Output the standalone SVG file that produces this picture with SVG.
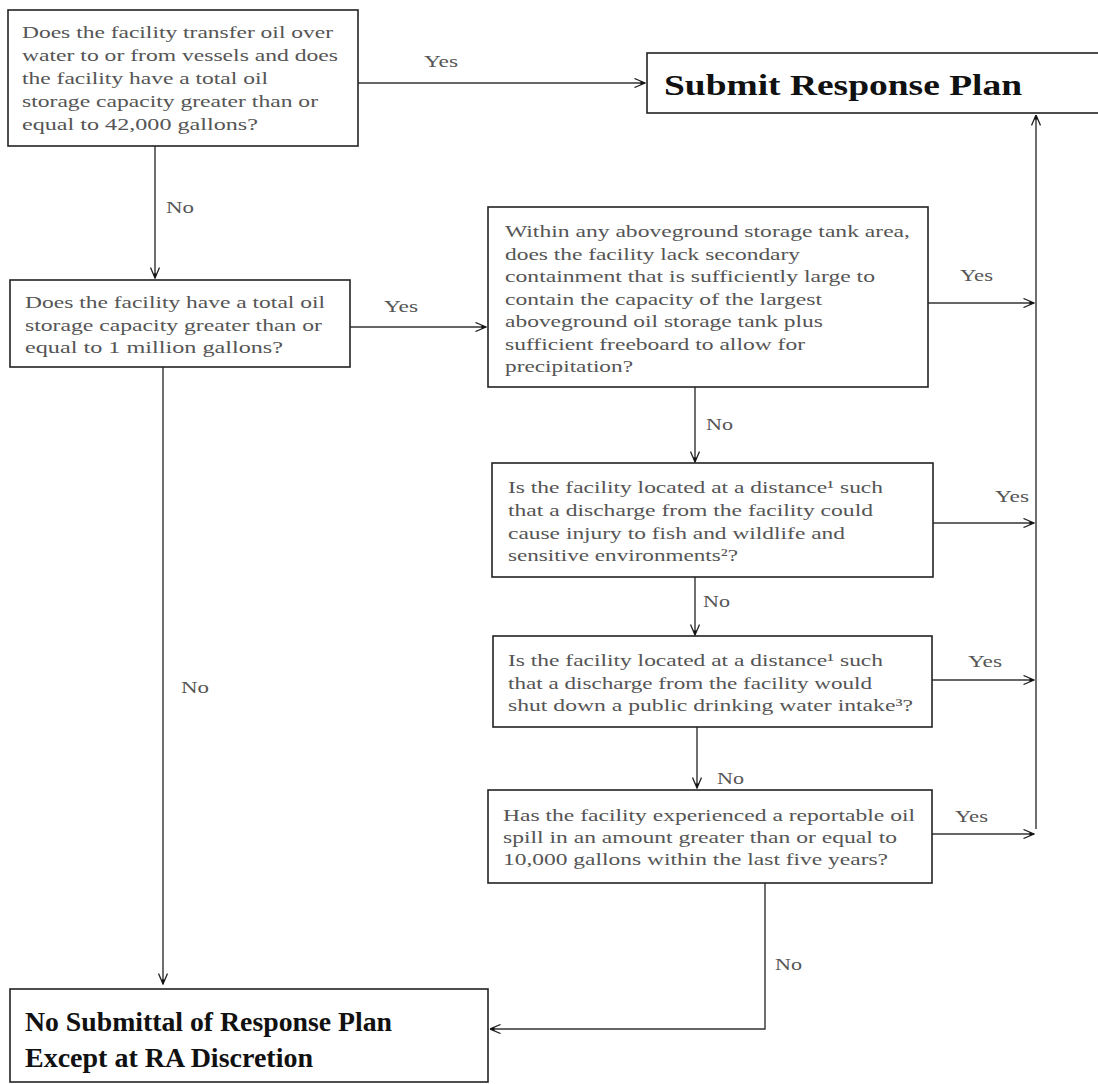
<svg xmlns="http://www.w3.org/2000/svg" width="1098" height="1084" viewBox="0 0 1098 1084">
<style>
.box{fill:#fff;stroke:#222;stroke-width:1.6}
.t{font-family:"Liberation Serif","Times New Roman",serif;font-size:17px;fill:#555}
.lbl{font-family:"Liberation Serif","Times New Roman",serif;font-size:17px;fill:#555}
.big{font-family:"Liberation Serif","Times New Roman",serif;font-weight:bold;fill:#111}
.c{fill:none;stroke:#333;stroke-width:1.4}
</style>
<defs>
<marker id="ah" viewBox="0 0 12 10" refX="11.5" refY="5" markerWidth="12" markerHeight="10" markerUnits="userSpaceOnUse" orient="auto">
<path d="M1,0.5 L11.5,5 L1,9.5" fill="none" stroke="#222" stroke-width="1.3"/>
<path d="M7,3 L11.5,5 L7,7 Z" fill="#111"/>
</marker>
</defs>
<rect width="1098" height="1084" fill="#fff"/>

<g id="connectors">
<path class="c" d="M358,83 H645" marker-end="url(#ah)"/>
<path class="c" d="M155,146 V278" marker-end="url(#ah)"/>
<path class="c" d="M350,327 H486" marker-end="url(#ah)"/>
<path class="c" d="M163,367 V984" marker-end="url(#ah)"/>
<path class="c" d="M928,303 H1034" marker-end="url(#ah)"/>
<path class="c" d="M695,387 V462" marker-end="url(#ah)"/>
<path class="c" d="M933,523 H1034" marker-end="url(#ah)"/>
<path class="c" d="M695,577 V635" marker-end="url(#ah)"/>
<path class="c" d="M932,680 H1034" marker-end="url(#ah)"/>
<path class="c" d="M697,727 V788" marker-end="url(#ah)"/>
<path class="c" d="M932,834 H1034" marker-end="url(#ah)"/>
<path class="c" d="M1036,829 V115" marker-end="url(#ah)"/>
<path class="c" d="M765,883 V1029 H490" marker-end="url(#ah)"/>
<text class="lbl" x="424" y="67" textLength="34" lengthAdjust="spacingAndGlyphs">Yes</text>
<text class="lbl" x="166" y="213" textLength="28" lengthAdjust="spacingAndGlyphs">No</text>
<text class="lbl" x="384" y="312" textLength="34" lengthAdjust="spacingAndGlyphs">Yes</text>
<text class="lbl" x="181" y="693" textLength="28" lengthAdjust="spacingAndGlyphs">No</text>
<text class="lbl" x="960" y="281" textLength="33" lengthAdjust="spacingAndGlyphs">Yes</text>
<text class="lbl" x="706" y="430" textLength="27" lengthAdjust="spacingAndGlyphs">No</text>
<text class="lbl" x="995" y="502" textLength="34" lengthAdjust="spacingAndGlyphs">Yes</text>
<text class="lbl" x="703" y="607" textLength="27" lengthAdjust="spacingAndGlyphs">No</text>
<text class="lbl" x="968" y="667" textLength="34" lengthAdjust="spacingAndGlyphs">Yes</text>
<text class="lbl" x="717" y="784" textLength="27" lengthAdjust="spacingAndGlyphs">No</text>
<text class="lbl" x="955" y="822" textLength="33" lengthAdjust="spacingAndGlyphs">Yes</text>
<text class="lbl" x="775" y="970" textLength="27" lengthAdjust="spacingAndGlyphs">No</text>
</g>

<g id="q1">
<rect class="box" x="8" y="10" width="350" height="136"/>
<text class="t" x="22" y="38" textLength="311" lengthAdjust="spacingAndGlyphs">Does the facility transfer oil over</text>
<text class="t" x="22" y="61" textLength="316" lengthAdjust="spacingAndGlyphs">water to or from vessels and does</text>
<text class="t" x="22" y="84" textLength="246" lengthAdjust="spacingAndGlyphs">the facility have a total oil</text>
<text class="t" x="22" y="107" textLength="296" lengthAdjust="spacingAndGlyphs">storage capacity greater than or</text>
<text class="t" x="22" y="130" textLength="236" lengthAdjust="spacingAndGlyphs">equal to 42,000 gallons?</text>
</g>

<g id="submit">
<rect class="box" x="647" y="53" width="460" height="60"/>
<text class="big" x="664" y="95" font-size="29" textLength="358" lengthAdjust="spacingAndGlyphs">Submit Response Plan</text>
</g>

<g id="q2">
<rect class="box" x="10" y="280" width="340" height="87"/>
<text class="t" x="25" y="308" textLength="300" lengthAdjust="spacingAndGlyphs">Does the facility have a total oil</text>
<text class="t" x="25" y="331" textLength="297" lengthAdjust="spacingAndGlyphs">storage capacity greater than or</text>
<text class="t" x="25" y="353" textLength="258" lengthAdjust="spacingAndGlyphs">equal to 1 million gallons?</text>
</g>

<g id="q3">
<rect class="box" x="488" y="207" width="440" height="180"/>
<text class="t" x="505" y="237" textLength="405" lengthAdjust="spacingAndGlyphs">Within any aboveground storage tank area,</text>
<text class="t" x="505" y="259.5" textLength="295" lengthAdjust="spacingAndGlyphs">does the facility lack secondary</text>
<text class="t" x="505" y="282" textLength="370" lengthAdjust="spacingAndGlyphs">containment that is sufficiently large to</text>
<text class="t" x="505" y="304.5" textLength="317" lengthAdjust="spacingAndGlyphs">contain the capacity of the largest</text>
<text class="t" x="505" y="327" textLength="318" lengthAdjust="spacingAndGlyphs">aboveground oil storage tank plus</text>
<text class="t" x="505" y="349.5" textLength="300" lengthAdjust="spacingAndGlyphs">sufficient freeboard to allow for</text>
<text class="t" x="505" y="372" textLength="128" lengthAdjust="spacingAndGlyphs">precipitation?</text>
</g>

<g id="q4">
<rect class="box" x="492" y="463" width="441" height="114"/>
<text class="t" x="508" y="493" textLength="375" lengthAdjust="spacingAndGlyphs">Is the facility located at a distance¹ such</text>
<text class="t" x="508" y="516" textLength="365" lengthAdjust="spacingAndGlyphs">that a discharge from the facility could</text>
<text class="t" x="508" y="539" textLength="337" lengthAdjust="spacingAndGlyphs">cause injury to fish and wildlife and</text>
<text class="t" x="508" y="561" textLength="230" lengthAdjust="spacingAndGlyphs">sensitive environments²?</text>
</g>

<g id="q5">
<rect class="box" x="493" y="636" width="439" height="91"/>
<text class="t" x="508" y="666" textLength="375" lengthAdjust="spacingAndGlyphs">Is the facility located at a distance¹ such</text>
<text class="t" x="508" y="688.5" textLength="364" lengthAdjust="spacingAndGlyphs">that a discharge from the facility would</text>
<text class="t" x="508" y="711" textLength="405" lengthAdjust="spacingAndGlyphs">shut down a public drinking water intake³?</text>
</g>

<g id="q6">
<rect class="box" x="488" y="790" width="444" height="93"/>
<text class="t" x="503" y="821" textLength="412" lengthAdjust="spacingAndGlyphs">Has the facility experienced a reportable oil</text>
<text class="t" x="503" y="843" textLength="394" lengthAdjust="spacingAndGlyphs">spill in an amount greater than or equal to</text>
<text class="t" x="503" y="865" textLength="385" lengthAdjust="spacingAndGlyphs">10,000 gallons within the last five years?</text>
</g>

<g id="nosubmit">
<rect class="box" x="10" y="989" width="478" height="93"/>
<text class="big" x="25" y="1031" font-size="27" textLength="367" lengthAdjust="spacingAndGlyphs">No Submittal of Response Plan</text>
<text class="big" x="25" y="1067" font-size="27" textLength="288" lengthAdjust="spacingAndGlyphs">Except at RA Discretion</text>
</g>
</svg>
